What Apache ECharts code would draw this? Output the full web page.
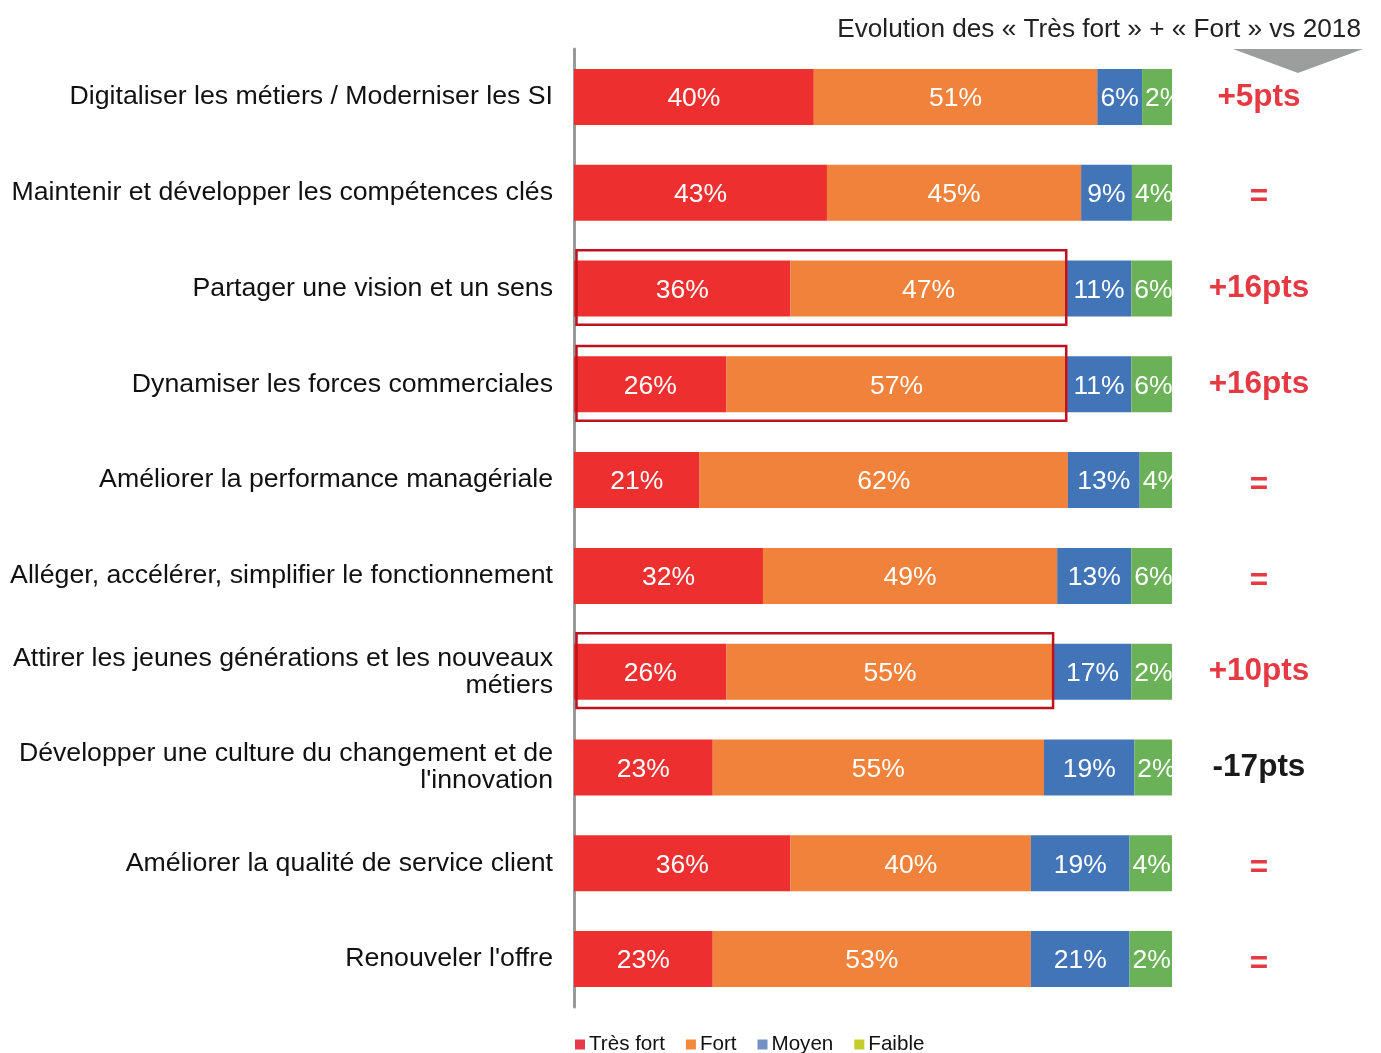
<!DOCTYPE html>
<html>
<head>
<meta charset="utf-8">
<script src="https://cdn.jsdelivr.net/npm/echarts@6/dist/echarts.min.js"></script>
<style>
html,body{margin:0;padding:0;background:#fff;}
#chart{width:1381px;height:1053px;}
</style>
</head>
<body>
<div id="chart"></div>
<script>
// ---- Data ----
const categories = [
  "Digitaliser les métiers / Moderniser les SI",
  "Maintenir et développer les compétences clés",
  "Partager une vision et un sens",
  "Dynamiser les forces commerciales",
  "Améliorer la performance managériale",
  "Alléger, accélérer, simplifier le fonctionnement",
  "Attirer les jeunes générations et les nouveaux\nmétiers",
  "Développer une culture du changement et de\nl'innovation",
  "Améliorer la qualité de service client",
  "Renouveler l'offre"
];
const seriesNames = ["Très fort", "Fort", "Moyen", "Faible"];
// bar lengths (share of the bar)
const tresFort = [40.1, 42.3, 36.2, 25.5, 21.0, 31.6, 25.5, 23.2, 36.2, 23.2];
const fort     = [47.4, 42.5, 46.2, 56.9, 61.6, 49.2, 54.7, 55.4, 40.2, 53.2];
const moyen    = [7.5, 8.5, 10.8, 10.8, 12.0, 12.4, 13.0, 15.1, 16.5, 16.5];
const faible   = [5.0, 6.7, 6.8, 6.8, 5.4, 6.8, 6.8, 6.3, 7.1, 7.1];
// printed data labels
const labelTresFort = [40, 43, 36, 26, 21, 32, 26, 23, 36, 23];
const labelFort     = [51, 45, 47, 57, 62, 49, 55, 55, 40, 53];
const labelMoyen    = [6, 9, 11, 11, 13, 13, 17, 19, 19, 21];
const labelFaible   = [2, 4, 6, 6, 4, 6, 2, 2, 4, 2];
// evolution vs 2018
const evolution = ["+5pts", "=", "+16pts", "+16pts", "=", "=", "+10pts", "-17pts", "=", "="];
// rows outlined in red
const boxedRows = [2, 3, 6];
const headerText = "Evolution des « Très fort » + « Fort » vs 2018";

// ---- Styles ----
const FONT = "'Liberation Sans', Arial, Helvetica, sans-serif";
const barColors = ["#ee2f2f", "#f0823b", "#4274b8", "#6ab158"];
const legendColors = ["#e8394a", "#f28a3a", "#7391c4", "#c5cd2c"];

const values = [tresFort, fort, moyen, faible];
const labels = [labelTresFort, labelFort, labelMoyen, labelFaible];

const barSeries = seriesNames.map((name, s) => ({
  name: name,
  type: "bar",
  stack: "total",
  barWidth: 56,
  data: values[s],
  itemStyle: { color: barColors[s] },
  label: {
    show: true,
    position: s === 3 ? "insideLeft" : "inside",
    distance: 3,
    offset: [0, 2],
    color: "#fff",
    fontSize: 26.5,
    fontFamily: FONT,
    formatter: p => labels[s][p.dataIndex] + "%"
  },
  emphasis: { disabled: true },
  z: 2
}));

const boxSeries = {
  name: "boxes",
  type: "custom",
  coordinateSystem: "cartesian2d",
  data: boxedRows.map(i => [tresFort[i] + fort[i], i]),
  renderItem: function (params, api) {
    const sum = api.value(0);
    const cat = api.value(1);
    const p0 = api.coord([0, cat]);
    const p1 = api.coord([sum, cat]);
    const band = api.size([0, 1])[1];
    const h = band * 0.78;
    return {
      type: "rect",
      shape: { x: p0[0] + 2.5, y: p0[1] - h / 2 - 1, width: p1[0] - p0[0] - 3, height: h },
      style: { fill: null, stroke: "#c0111f", lineWidth: 2.5 }
    };
  },
  silent: true,
  z: 5
};

const chart = echarts.init(document.getElementById("chart"), null, { renderer: "canvas" });
chart.setOption({
  animation: false,
  backgroundColor: "#fff",
  textStyle: { fontFamily: FONT },
  title: {
    text: headerText,
    right: 15,
    top: 12,
    textStyle: { fontSize: 26.2, fontWeight: "normal", color: "#222", fontFamily: FONT }
  },
  graphic: [{
    type: "polygon",
    shape: { points: [[1233, 49], [1363, 49], [1298, 73]] },
    style: { fill: "#9c9e9e" },
    silent: true
  }],
  legend: {
    left: 570,
    top: 1029,
    icon: "rect",
    itemWidth: 10,
    itemHeight: 10,
    itemGap: 21,
    selectedMode: false,
    textStyle: { fontSize: 20.6, color: "#111", fontFamily: FONT, padding: [0, 0, 0, -1] },
    data: seriesNames.map((n, i) => ({ name: n, itemStyle: { color: legendColors[i] } }))
  },
  grid: { left: 574, right: 209, top: 49, bottom: 46, containLabel: false },
  xAxis: {
    type: "value",
    min: 0,
    max: 100,
    show: false
  },
  yAxis: [{
    type: "category",
    data: categories,
    inverse: true,
    axisLine: { show: true, lineStyle: { color: "#999", width: 3 } },
    axisTick: { show: false },
    axisLabel: {
      margin: 21,
      fontSize: 26.7,
      lineHeight: 27,
      color: "#111",
      fontFamily: FONT
    }
  }, {
    type: "category",
    data: categories,
    inverse: true,
    position: "right",
    axisLine: { show: false },
    axisTick: { show: false },
    axisLabel: {
      margin: 87,
      align: "center",
      formatter: (v, i) => {
        const t = evolution[i];
        if (t === "=") return "{eq|" + t + "}";
        return t.charAt(0) === "-" ? "{neg|" + t + "}" : "{pos|" + t + "}";
      },
      rich: {
        pos: { fontSize: 31.5, fontWeight: "bold", color: "#e53a43", fontFamily: FONT },
        neg: { fontSize: 31.5, fontWeight: "bold", color: "#1a1a1a", fontFamily: FONT },
        eq: { fontSize: 31.5, fontWeight: "bold", color: "#e53a43", fontFamily: FONT, padding: [10, 0, 0, 0] }
      }
    }
  }],
  series: barSeries.concat([boxSeries])
});
</script>
</body>
</html>
